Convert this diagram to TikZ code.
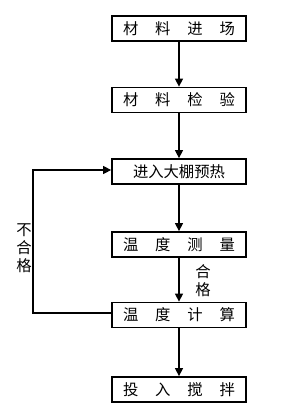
\documentclass[tikz,border=0pt]{standalone}
\usepackage{fontspec}
\newfontfamily\cjk{Noto Sans CJK SC}
\usetikzlibrary{arrows.meta}
\begin{document}
\begin{tikzpicture}[x=0.75pt,y=-0.75pt,
  stepbox/.style={draw,line width=1.3pt,minimum width=134*0.75pt,minimum height=25*0.75pt,inner sep=0pt,font=\cjk\fontsize{11.5pt}{13pt}\selectfont},
  conn/.style={line width=0.9pt,-{Triangle[length=6pt,width=6pt]}},
  lab/.style={font=\cjk\fontsize{11.5pt}{13.3pt}\selectfont,align=center,inner sep=0pt}]
\useasboundingbox (0,0) rectangle (300,412);
\node[stepbox] (b1) at (179,28.5) {材\hspace{1.1em}料\hspace{1.1em}进\hspace{1.1em}场};
\node[stepbox] (b2) at (179,100) {材\hspace{1.1em}料\hspace{1.1em}检\hspace{1.1em}验};
\node[stepbox] (b3) at (179,171.5) {进入大棚预热};
\node[stepbox] (b4) at (179,244.5) {温\hspace{1.1em}度\hspace{1.1em}测\hspace{1.1em}量};
\node[stepbox] (b5) at (179,315) {温\hspace{1.1em}度\hspace{1.1em}计\hspace{1.1em}算};
\node[stepbox] (b6) at (179,389.5) {投\hspace{1.1em}入\hspace{1.1em}搅\hspace{1.1em}拌};
\draw[conn] (b1) -- (b2);
\draw[conn] (b2) -- (b3);
\draw[conn] (b3) -- (b4);
\draw[conn] (b4) -- (b5);
\draw[conn] (b5) -- (b6);
\coordinate (c1) at (33,313);
\coordinate (c2) at (33,170);
\draw[conn] (b5.west |- c1) -- (c1) -- (c2) -- (b3.west |- c2);
\node[lab] (l1) at (24,248) {不\\合\\格};
\node[lab] (l2) at (203,281) {合\\格};
\end{tikzpicture}
\end{document}
